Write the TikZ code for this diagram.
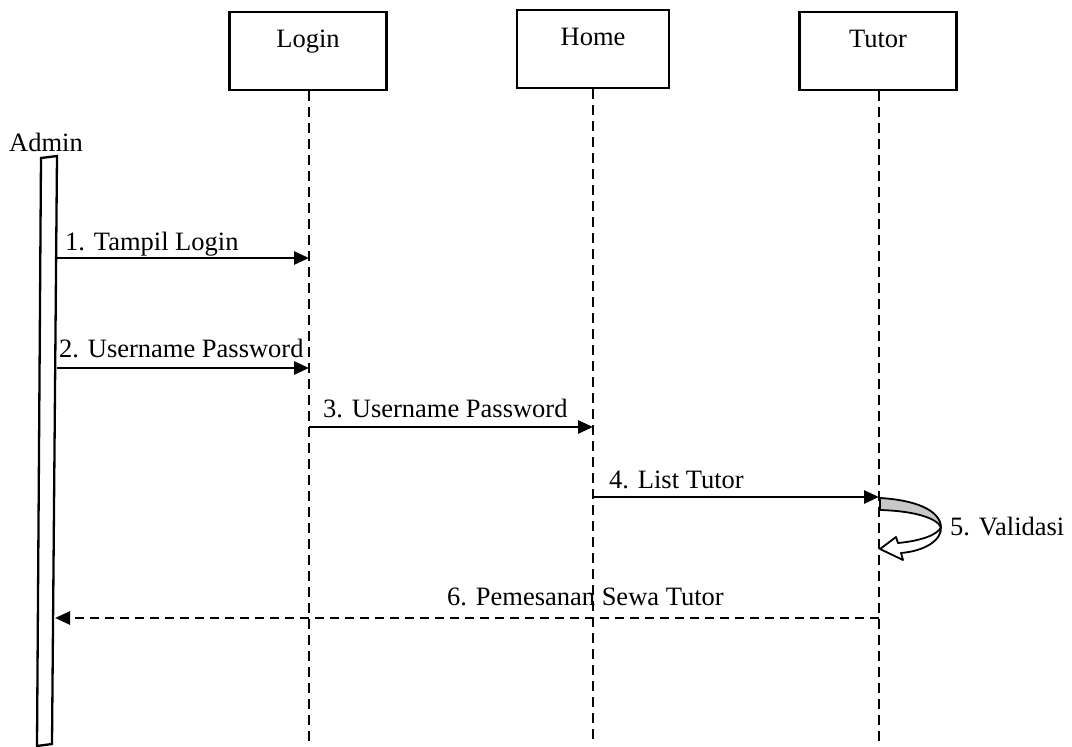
\documentclass[tikz,border=0pt]{standalone}
\usepackage{fontspec}
\setmainfont{Liberation Serif}
\definecolor{loopgray}{RGB}{200,200,200}
\usetikzlibrary{arrows.meta,positioning}

\begin{document}
\begin{tikzpicture}[x=1pt,y=-1pt,
  objbox/.style={draw,line width=2.3pt,minimum width=157pt,minimum height=78pt,inner sep=0pt},
  lbl/.style={font=\fontsize{26.5}{30}\selectfont,inner sep=0pt},
  lifeline/.style={line width=2.9pt,dash pattern=on 10pt off 6pt},
  msg/.style={line width=2.7pt,-{Triangle[length=15pt,width=13pt]}},
  reply/.style={msg,dash pattern=on 9pt off 6pt}]
  \useasboundingbox (0,0) rectangle (1072,747);

  % Objects
  \node[objbox] (login) at (308,51) {};
  \node[objbox,minimum width=152pt] (home) at (593,49) {};
  \node[objbox] (tutor) at (878,51) {};
  \node[lbl,anchor=base] (loginlbl) at (308,47) {Login};
  \node[lbl,anchor=base] (homelbl) at (593,45) {Home};
  \node[lbl,anchor=base] (tutorlbl) at (878,47) {Tutor};

  % Lifelines
  \coordinate (loginend) at (309,745);
  \coordinate (homeend) at (593,745);
  \coordinate (tutorend) at (879,745);
  \draw[lifeline] (login.south -| loginend) -- (loginend);
  \draw[lifeline] (home.south -| homeend) -- (homeend);
  \draw[lifeline] (tutor.south -| tutorend) -- (tutorend);

  % Admin
  \node[lbl,anchor=base] (adminlbl) at (46,151) {Admin};
  \coordinate (a1) at (41,158);
  \coordinate (a2) at (57,156);
  \coordinate (a3) at (52,744);
  \coordinate (a4) at (37,746);
  \draw[line width=2.3pt] (a1) -- (a2) -- (a3) -- (a4) -- cycle;

  % Messages
  \coordinate (adm1) at (57,258);   \coordinate (log1) at (309,258);
  \coordinate (adm2) at (57,368);   \coordinate (log2) at (309,368);
  \coordinate (log3) at (309,427);  \coordinate (hom3) at (593,427);
  \coordinate (hom4) at (593,497);  \coordinate (tut4) at (879,497);
  \coordinate (tut6) at (879,618);  \coordinate (adm6) at (55,618);
  \draw[msg] (adm1) -- (log1);
  \draw[msg] (adm2) -- (log2);
  \draw[msg] (log3) -- (hom3);
  \draw[msg] (hom4) -- (tut4);
  \draw[reply] (tut6) -- (adm6);

  \node[lbl,anchor=base west] (m1) at (65,250) {1. Tampil Login};
  \node[lbl,anchor=base west] (m2) at (59,357) {2. Username Password};
  \node[lbl,anchor=base west] (m3) at (323,417) {3. Username Password};
  \node[lbl,anchor=base west] (m4) at (609,488) {4. List Tutor};
  \node[lbl,anchor=base west] (m6) at (447,605) {6. Pemesanan Sewa Tutor};

  % Self call
  \fill[white] (880,498) .. controls (915,500) and (940,510) .. (941,527)
    .. controls (942,540) and (925,551) .. (901,553)
    -- (903,560) -- (880,549) -- (896,537) -- (898,543)
    .. controls (920,541) and (936,535) .. (938,527)
    .. controls (925,515) and (905,511) .. (880,510) -- cycle;
  \fill[loopgray] (880,498) .. controls (915,500) and (940,510) .. (941,527)
    .. controls (936,518) and (915,511) .. (880,510) -- cycle;
  \draw[line width=1.8pt,line join=round] (880,498) .. controls (915,500) and (940,510) .. (941,527)
    .. controls (942,540) and (925,551) .. (901,553)
    -- (903,560) -- (880,549) -- (896,537) -- (898,543)
    .. controls (920,541) and (938,535) .. (941,527);
  \draw[line width=1.8pt] (941,527) .. controls (936,518) and (915,511) .. (880,510) -- (880,498);
  \node[lbl,anchor=base west] (m5) at (950,535) {5. Validasi};
\end{tikzpicture}
\end{document}
